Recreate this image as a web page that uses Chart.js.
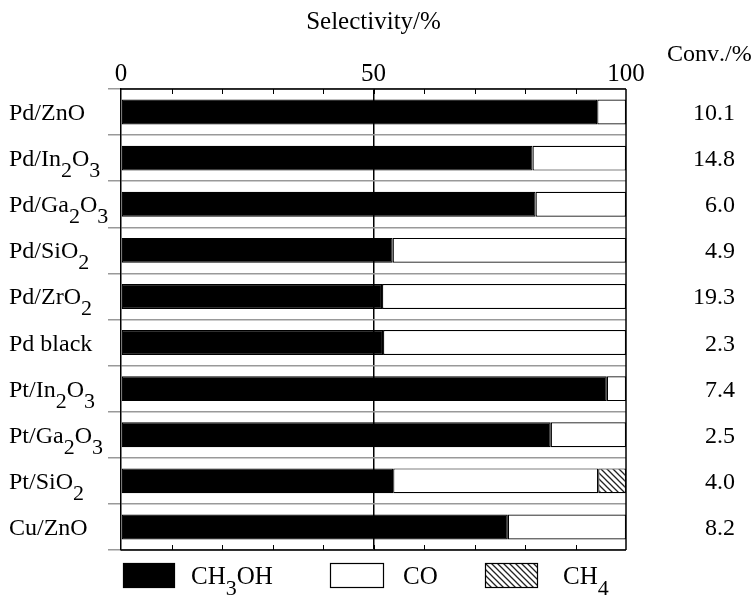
<!DOCTYPE html>
<html>
<head>
<meta charset="utf-8">
<script src="https://cdn.jsdelivr.net/npm/chart.js@4.4.1/dist/chart.umd.min.js"></script>
<style>
  html, body { margin: 0; padding: 0; background: #fff; }
  canvas { display: block; }
</style>
</head>
<body>
<canvas id="grafico" width="756" height="597"></canvas>
<script>
// catalysts, "_" marks a subscript digit
const catalisadores = ['Pd/ZnO', 'Pd/In_2O_3', 'Pd/Ga_2O_3', 'Pd/SiO_2', 'Pd/ZrO_2',
  'Pd black', 'Pt/In_2O_3', 'Pt/Ga_2O_3', 'Pt/SiO_2', 'Cu/ZnO'];
const selCH3OH = [94.3, 81.5, 82.1, 53.8, 51.7, 51.9, 96.2, 85.1, 53.9, 76.6];
const selCO    = [5.7, 18.5, 17.9, 46.2, 48.3, 48.1, 3.8, 14.9, 40.6, 23.4];
const selCH4   = [0, 0, 0, 0, 0, 0, 0, 0, 5.5, 0];
const conversao = ['10.1', '14.8', '6.0', '4.9', '19.3', '2.3', '7.4', '2.5', '4.0', '8.2'];
const rotulosX = [0, 50, 100];
const legendas = ['CH_3OH', 'CO', 'CH_4'];

const FONTE = '"Liberation Serif", "Times New Roman", serif';

function hachura() {
  const c = document.createElement('canvas');
  c.width = 6; c.height = 6;
  const g = c.getContext('2d');
  g.fillStyle = '#fff';
  g.fillRect(0, 0, 6, 6);
  g.strokeStyle = '#222';
  g.lineWidth = 1.3;
  g.beginPath();
  g.moveTo(-3, 3); g.lineTo(3, 9);
  g.moveTo(0, 0); g.lineTo(6, 6);
  g.moveTo(3, -3); g.lineTo(9, 3);
  g.stroke();
  return g.createPattern(c, 'repeat');
}

function partes(txt) {
  const out = [];
  for (let i = 0; i < txt.length; i++) {
    if (txt[i] === '_') { out.push({ t: txt[i + 1], sub: true }); i++; }
    else out.push({ t: txt[i], sub: false });
  }
  return out;
}

function escreve(ctx, txt, x, y, tam, tamSub, desl, alinha) {
  const ps = partes(txt);
  let largura = 0;
  ps.forEach(p => {
    ctx.font = (p.sub ? tamSub : tam) + 'px ' + FONTE;
    p.w = ctx.measureText(p.t).width;
    largura += p.w;
  });
  let cx = alinha === 'right' ? x - largura : x;
  ctx.textAlign = 'left';
  ctx.textBaseline = 'alphabetic';
  ps.forEach(p => {
    ctx.font = (p.sub ? tamSub : tam) + 'px ' + FONTE;
    ctx.fillText(p.t, cx, p.sub ? y + desl : y);
    cx += p.w;
  });
}

const padraoCH4 = hachura();

const moldura = {
  id: 'moldura',
  afterDatasetsDraw(chart) {
    const ctx = chart.ctx;
    const a = chart.chartArea;
    const sx = chart.scales.x;
    ctx.save();
    ctx.strokeStyle = '#000';
    ctx.lineWidth = 1.5;
    ctx.beginPath();
    ctx.moveTo(a.left, a.bottom); ctx.lineTo(a.right, a.bottom);
    ctx.moveTo(a.right, a.top); ctx.lineTo(a.right, a.bottom);
    ctx.moveTo(a.left, a.top); ctx.lineTo(a.right, a.top);
    ctx.stroke();
    ctx.lineWidth = 1;
    ctx.beginPath();
    for (let v = 10; v < 100; v += 10) {
      const px = Math.round(sx.getPixelForValue(v)) + 0.5;
      ctx.moveTo(px, a.top); ctx.lineTo(px, a.top + 5);
      ctx.moveTo(px, a.bottom); ctx.lineTo(px, a.bottom - 5);
    }
    ctx.stroke();
    ctx.restore();
  },
  afterDraw(chart) {
    const ctx = chart.ctx;
    const sy = chart.scales.y;
    ctx.save();
    ctx.fillStyle = '#000';
    catalisadores.forEach((nome, i) => {
      const cy = sy.getPixelForValue(i);
      escreve(ctx, nome, 9, cy + 8, 24, 22, 11);
      escreve(ctx, conversao[i], 735, cy + 8, 24, 24, 0, 'right');
    });
    escreve(ctx, 'Conv./%', 667, 61, 24, 24, 0);

    // legend
    const caixas = [[123, 51, '#000'], [330, 53, '#fff'], [485, 52, padraoCH4]];
    const textosX = [191, 403, 563];
    caixas.forEach((c, i) => {
      ctx.fillStyle = c[2];
      ctx.fillRect(c[0], 563, c[1], 24);
      ctx.strokeStyle = '#000';
      ctx.lineWidth = 1.2;
      ctx.strokeRect(c[0] + 0.5, 563.5, c[1], 24);
      ctx.fillStyle = '#000';
      escreve(ctx, legendas[i], textosX[i], 584, 25, 22, 11);
    });
    ctx.restore();
  }
};

const semZero = arr => arr.map(v => (v > 0 ? v : null));

new Chart(document.getElementById('grafico'), {
  type: 'bar',
  data: {
    labels: catalisadores,
    datasets: [
      { label: 'CH3OH', data: selCH3OH, backgroundColor: '#000' },
      { label: 'CO', data: selCO, backgroundColor: '#fff' },
      { label: 'CH4', data: semZero(selCH4), backgroundColor: padraoCH4 }
    ].map(d => Object.assign(d, {
      borderColor: '#000', borderWidth: 1.2, borderSkipped: false,
      barPercentage: 0.54, categoryPercentage: 1
    }))
  },
  options: {
    indexAxis: 'y',
    responsive: false,
    animation: false,
    layout: { padding: { left: 0, right: 130, top: 0, bottom: 47 } },
    plugins: { legend: { display: false }, tooltip: { enabled: false } },
    scales: {
      x: {
        position: 'top', stacked: true, min: 0, max: 100,
        ticks: {
          stepSize: 10, autoSkip: false, maxRotation: 0, padding: 0, color: '#000',
          font: { family: FONTE, size: 25 },
          callback: v => (rotulosX.includes(v) ? v : '')
        },
        grid: {
          drawTicks: false, lineWidth: 1.5,
          color: c => (c.tick && c.tick.value === 50 ? '#000' : 'rgba(0,0,0,0)')
        },
        border: { display: false },
        title: {
          display: true, text: 'Selectivity/%', color: '#000',
          font: { family: FONTE, size: 25 }, padding: { top: 7, bottom: 0 }
        },
        afterFit: s => { s.height = 89; }
      },
      y: {
        stacked: true,
        ticks: { display: false },
        grid: { offset: true, color: '#999', lineWidth: 1.5, tickLength: 13 },
        border: { color: '#000', width: 1.5 },
        afterFit: s => { s.width = 121; }
      }
    }
  },
  plugins: [moldura]
});
</script>
</body>
</html>
